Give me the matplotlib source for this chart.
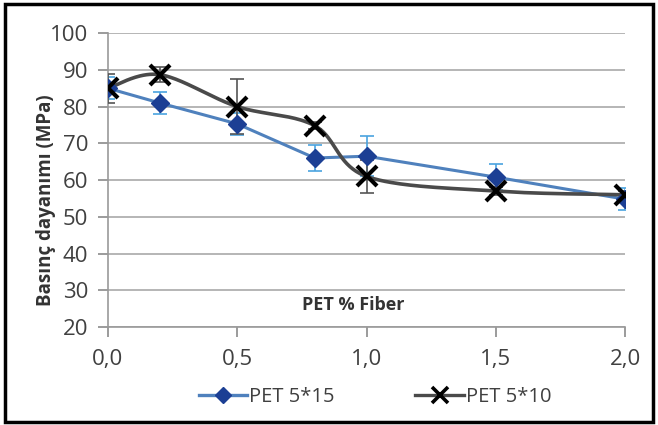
"""Basinc dayanimi vs PET fiber orani"""
import numpy as np
import matplotlib
matplotlib.use("Agg")
import matplotlib.pyplot as plt
from matplotlib.patches import Rectangle
from matplotlib.lines import Line2D

# data
fiber = [0.0, 0.2, 0.5, 0.8, 1.0, 1.5, 2.0]
pet_515 = [85.0, 81.0, 75.3, 66.0, 66.5, 60.8, 54.8]
pet_515_err = [3.0, 3.0, 3.0, 3.5, 5.5, 3.5, 3.0]
pet_510 = [85.0, 88.7, 80.0, 74.8, 61.0, 57.0, 56.0]
pet_510_err = [4.0, 2.0, 7.5, 1.0, 4.5, 1.0, 1.0]
y_ticks = [20, 30, 40, 50, 60, 70, 80, 90, 100]
x_ticks = [0.0, 0.5, 1.0, 1.5, 2.0]
x_tick_labels = ["0,0", "0,5", "1,0", "1,5", "2,0"]

plt.rcParams['font.family'] = ['Open Sans', 'DejaVu Sans']


def smooth(xs, ys, n=40):
    """Excel-like smoothed line (Catmull-Rom style bezier)"""
    pts = np.column_stack([xs, ys]).astype(float)
    out = []
    for i in range(len(pts) - 1):
        p0 = pts[i - 1] if i > 0 else pts[i]
        p1 = pts[i]
        p2 = pts[i + 1]
        p3 = pts[i + 2] if i + 2 < len(pts) else pts[i + 1]
        c1 = p1 + (p2 - p0) / 6.0
        c2 = p2 - (p3 - p1) / 6.0
        t = np.linspace(0, 1, n)[:, None]
        seg = ((1 - t) ** 3) * p1 + 3 * ((1 - t) ** 2) * t * c1 + 3 * (1 - t) * t ** 2 * c2 + t ** 3 * p2
        out.append(seg if i == 0 else seg[1:])
    out = np.vstack(out)
    return out[:, 0], out[:, 1]


fig = plt.figure(figsize=(6.58, 4.25), dpi=100)
ax = fig.add_axes([0.164, 0.2306, 0.786, 0.6914])

blue_line = '#4f81bd'
blue_mark = '#1c3f94'
blue_err = '#4aa3df'
grey_line = '#4a4a4a'

ax.errorbar(fiber, pet_515, yerr=pet_515_err, fmt='none', ecolor=blue_err,
            elinewidth=1.2, capsize=5, capthick=1.2, zorder=3)
ax.plot(fiber, pet_515, color=blue_line, lw=2.2, zorder=4)
ax.plot(fiber, pet_515, ls='none', marker='D', ms=9, color=blue_mark,
        mec=blue_mark, zorder=5)

ax.errorbar(fiber, pet_510, yerr=pet_510_err, fmt='none', ecolor='#555555',
            elinewidth=1.2, capsize=5, capthick=1.2, zorder=3)
sx, sy = smooth(fiber, pet_510)
ax.plot(sx, sy, color=grey_line, lw=2.6, zorder=4)
ax.plot(fiber, pet_510, ls='none', marker='x', ms=14, mew=3.0, color='black',
        zorder=6)

ax.set_xlim(0, 2.0)
ax.set_ylim(20, 100)
ax.set_yticks(y_ticks)
ax.set_xticks(x_ticks)
ax.set_xticklabels(x_tick_labels)
ax.tick_params(axis='both', labelsize=16, colors='#8a8a8a', labelcolor='#404040',
               length=7, width=1.2)
ax.tick_params(axis='x', pad=9)
ax.tick_params(axis='y', pad=7)
ax.grid(axis='y', color='#b5b5b5', lw=1.4)
ax.set_axisbelow(True)
for side in ['top', 'right']:
    ax.spines[side].set_visible(False)
ax.spines['left'].set_color('#9a9a9a')
ax.spines['bottom'].set_color('#9a9a9a')
ax.spines['left'].set_linewidth(1.2)
ax.spines['bottom'].set_linewidth(1.2)

ax.set_ylabel("Basınç dayanımı (MPa)", fontsize=13.5, fontweight='bold',
              color='#333333')
ax.yaxis.set_label_coords(-0.1, 0.43)
ax.text(0.95, 23.5, "PET % Fiber", fontsize=13, fontweight='bold',
        color='#333333', ha='center', va='bottom')

handles = [
    Line2D([], [], color=blue_line, lw=2.4, marker='D', ms=8,
           mfc=blue_mark, mec=blue_mark),
    Line2D([], [], color=grey_line, lw=2.4, marker='x', ms=12, mew=2.6,
           mec='black'),
]
fig.legend(handles, ["PET 5*15", "PET 5*10"], loc='center', ncol=2,
           bbox_to_anchor=(0.57, 0.065), frameon=False, fontsize=14.5,
           handlelength=2.4, handletextpad=0.1, columnspacing=4.0,
           labelcolor='#404040')

fig.patches.append(Rectangle((0.008, 0.008), 0.984, 0.982, transform=fig.transFigure,
                             fill=False, ec='black', lw=2.5))

fig.savefig("out.png", dpi=100)
